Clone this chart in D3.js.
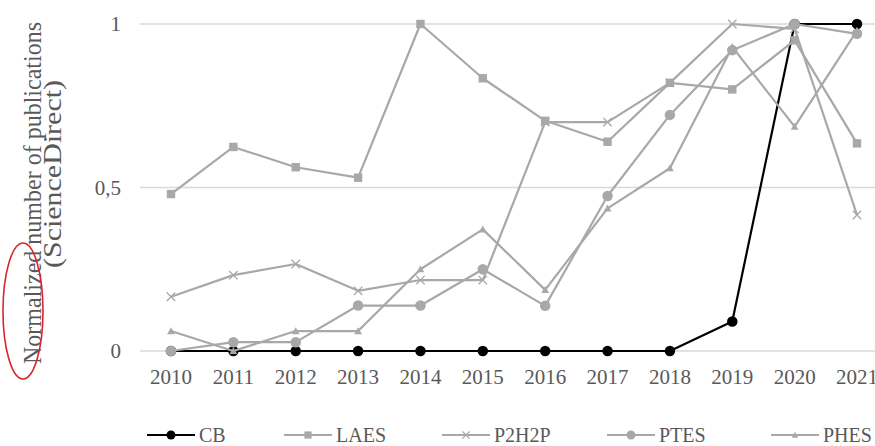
<!DOCTYPE html>
<html>
<head>
<meta charset="utf-8">
<script src="https://cdn.jsdelivr.net/npm/d3@7/dist/d3.min.js"></script>
<style>
  html, body { margin: 0; padding: 0; background: #fff; }
  svg { display: block; }
  text { font-family: "Liberation Serif", "Times New Roman", serif; fill: #595959; }
</style>
</head>
<body>
<svg id="chart" width="875" height="446"></svg>
<script>
const years = ["2010","2011","2012","2013","2014","2015","2016","2017","2018","2019","2020","2021"];
const seriesNames = ["CB","LAES","P2H2P","PTES","PHES"];
const CB    = [0, 0, 0, 0, 0, 0, 0, 0, 0, 0.09, 1.0, 1.0];
const LAES  = [0.48, 0.624, 0.562, 0.53, 1.0, 0.834, 0.704, 0.64, 0.82, 0.80, 0.95, 0.635];
const P2H2P = [0.166, 0.232, 0.266, 0.184, 0.217, 0.217, 0.70, 0.70, 0.82, 1.0, 0.985, 0.416];
const PTES  = [0, 0.027, 0.027, 0.139, 0.139, 0.25, 0.138, 0.474, 0.722, 0.92, 1.0, 0.97];
const PHES  = [0.061, 0, 0.061, 0.061, 0.25, 0.372, 0.187, 0.436, 0.559, 0.93, 0.686, 0.98];
const yTicks = [0, 0.5, 1];
const yTickLabels = ["0", "0,5", "1"];
const yTitle = ["Normalized number of publications", "(ScienceDirect)"];

const seriesValues = [CB, LAES, P2H2P, PTES, PHES];
const colors = ["#000000", "#a8a8a8", "#a8a8a8", "#a8a8a8", "#a8a8a8"];
const markers = ["circle", "square", "cross", "circle", "triangle"];

const svg = d3.select("#chart");
const x = d3.scalePoint().domain(years).range([171, 857]);
const y = d3.scaleLinear().domain([0, 1]).range([351, 24]);

// gridlines
svg.append("g").selectAll("line").data(yTicks).join("line")
  .attr("x1", 140).attr("x2", 875)
  .attr("y1", d => y(d)).attr("y2", d => y(d))
  .attr("stroke", "#d9d9d9").attr("stroke-width", 1.5);

// y tick labels
svg.append("g").selectAll("text").data(yTicks).join("text")
  .attr("x", 121).attr("y", d => y(d))
  .attr("dy", "0.35em").attr("text-anchor", "end")
  .attr("font-size", 21)
  .text((d, i) => yTickLabels[i]);

// x tick labels
svg.append("g").selectAll("text").data(years).join("text")
  .attr("x", d => x(d)).attr("y", 384)
  .attr("text-anchor", "middle").attr("font-size", 21)
  .text(d => d);

// y title
svg.append("text")
  .attr("transform", "translate(41,193) rotate(-90)")
  .attr("text-anchor", "middle").attr("font-size", 25)
  .attr("textLength", 342).attr("lengthAdjust", "spacingAndGlyphs")
  .text(yTitle[0]);
svg.append("text")
  .attr("transform", "translate(61,174) rotate(-90)")
  .attr("text-anchor", "middle").attr("font-size", 25)
  .attr("textLength", 188).attr("lengthAdjust", "spacingAndGlyphs")
  .text(yTitle[1]);

// red annotation ellipse around "Normalized"
svg.append("ellipse")
  .attr("cx", 23).attr("cy", 311).attr("rx", 20).attr("ry", 68)
  .attr("fill", "none").attr("stroke", "#d8262c").attr("stroke-width", 1.6);

function drawMarker(g, type, cx, cy, color, size) {
  if (type === "circle") {
    g.append("circle").attr("cx", cx).attr("cy", cy).attr("r", size * 0.75).attr("fill", color);
  } else if (type === "square") {
    g.append("rect").attr("x", cx - size * 0.6).attr("y", cy - size * 0.6)
      .attr("width", size * 1.2).attr("height", size * 1.2).attr("fill", color);
  } else if (type === "cross") {
    const s = size * 0.6;
    g.append("path").attr("d", `M${cx - s},${cy - s}L${cx + s},${cy + s}M${cx - s},${cy + s}L${cx + s},${cy - s}`)
      .attr("stroke", color).attr("stroke-width", 1.3).attr("fill", "none");
  } else if (type === "triangle") {
    const s = size * 0.55;
    g.append("path").attr("d", `M${cx},${cy - s}L${cx + s},${cy + s * 0.8}L${cx - s},${cy + s * 0.8}Z`)
      .attr("fill", color);
  }
}

const line = d3.line().x((d, i) => x(years[i])).y(d => y(d));

seriesValues.forEach((vals, si) => {
  const g = svg.append("g");
  g.append("path").datum(vals).attr("d", line)
    .attr("fill", "none").attr("stroke", colors[si]).attr("stroke-width", 2.2)
    .attr("stroke-linejoin", "round");
  vals.forEach((v, i) => drawMarker(g, markers[si], x(years[i]), y(v), colors[si], 7));
});

// legend
const legendX = [147, 284, 442, 607, 771];
const legendY = 435;
seriesNames.forEach((name, si) => {
  const g = svg.append("g");
  const lx = legendX[si];
  g.append("line").attr("x1", lx).attr("x2", lx + 48).attr("y1", legendY).attr("y2", legendY)
    .attr("stroke", colors[si]).attr("stroke-width", 2.2);
  drawMarker(g, markers[si], lx + 24, legendY, colors[si], 6);
  g.append("text").attr("x", lx + 52).attr("y", legendY).attr("dy", "0.35em")
    .attr("font-size", 20).text(name);
});
</script>
</body>
</html>
